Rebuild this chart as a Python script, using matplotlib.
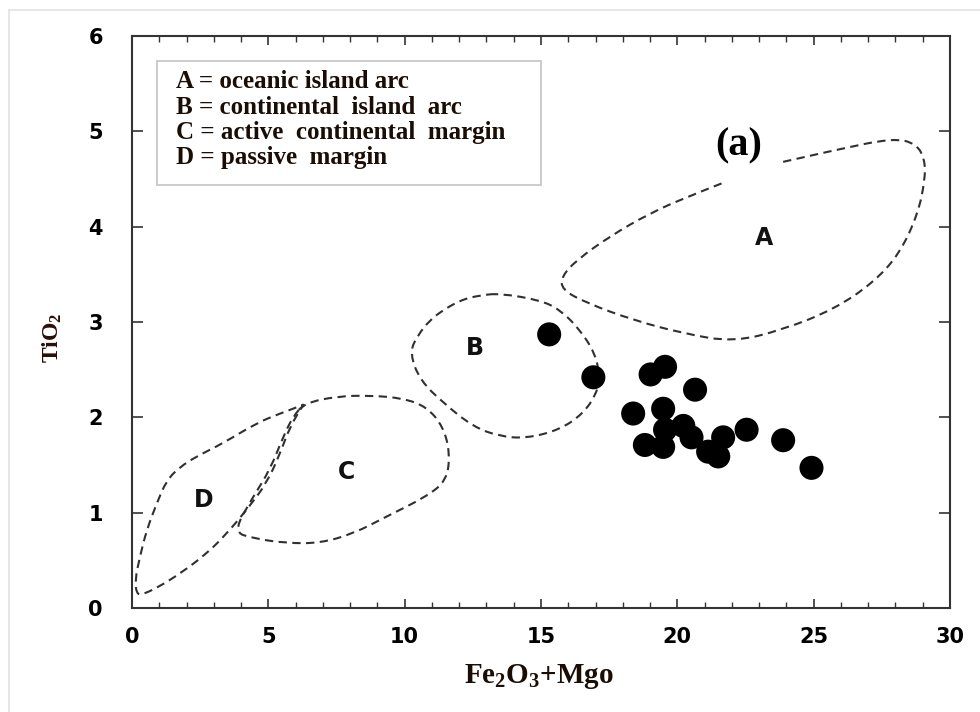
import matplotlib
matplotlib.use("Agg")
import matplotlib.pyplot as plt
from matplotlib.patches import Rectangle, PathPatch
from matplotlib.path import Path
from matplotlib.lines import Line2D
from matplotlib.ticker import MultipleLocator

plt.rcParams['mathtext.fontset'] = 'custom'
plt.rcParams['mathtext.rm'] = 'Liberation Serif:bold'
plt.rcParams['mathtext.bf'] = 'Liberation Serif:bold'

# Sample compositions (wt%)
fe2o3_mgo = [15.30, 16.92, 19.55, 19.02, 20.65, 18.38, 19.48, 20.22, 19.55,
             20.52, 18.81, 19.48, 21.68, 22.54, 23.88, 24.92, 21.13, 21.50]
tio2 = [2.87, 2.42, 2.53, 2.45, 2.29, 2.04, 2.09, 1.91, 1.87,
        1.79, 1.71, 1.69, 1.79, 1.87, 1.76, 1.47, 1.64, 1.59]

# Tectonic-setting field outlines (x = Fe2O3+MgO, y = TiO2)
field_a_x = [23.88, 25.72, 27.92, 28.77, 29.08, 29.08, 28.83, 28.16, 27.18, 25.72,
             23.88, 22.05, 20.22, 18.38, 16.67, 15.76, 15.76, 16.31, 17.53, 18.99,
             20.34, 21.68]
field_a_y = [4.68, 4.80, 4.93, 4.87, 4.70, 4.49, 4.14, 3.72, 3.41, 3.13,
             2.92, 2.79, 2.88, 3.02, 3.20, 3.34, 3.48, 3.65, 3.90, 4.14,
             4.31, 4.46]

field_b_x = [13.49, 14.96, 15.69, 16.43, 16.98, 17.16, 17.04, 16.55, 15.69, 14.47,
             13.49, 12.52, 11.42, 10.56, 10.19, 10.44, 11.05, 12.03, 12.76]
field_b_y = [3.30, 3.23, 3.13, 2.92, 2.67, 2.43, 2.25, 2.04, 1.87, 1.78,
             1.80, 1.90, 2.15, 2.39, 2.67, 2.85, 3.06, 3.23, 3.28]

field_c_x = [6.34, 7.51, 8.73, 9.95, 10.81, 11.42, 11.66, 11.54, 10.81, 9.34,
             8.12, 6.89, 5.67, 4.45, 3.71, 4.45, 5.06, 5.55, 5.91]
field_c_y = [2.15, 2.22, 2.23, 2.20, 2.11, 1.90, 1.62, 1.34, 1.17, 0.96,
             0.78, 0.68, 0.68, 0.73, 0.80, 1.17, 1.45, 1.80, 2.01]

field_d_x = [0.17, 0.11, 0.29, 0.54, 0.91, 1.27, 1.76, 2.37, 3.35, 4.57, 5.43, 6.28,
             6.30, 5.79, 5.43, 4.94, 4.21, 3.47, 2.74, 1.76, 0.91, 0.36]
field_d_y = [0.15, 0.29, 0.54, 0.82, 1.10, 1.34, 1.48, 1.59, 1.73, 1.94, 2.04, 2.13,
             2.14, 1.90, 1.62, 1.31, 1.03, 0.78, 0.57, 0.36, 0.21, 0.14]

field_names = ['A', 'B', 'C', 'D']
field_label_x = [23.17, 12.58, 7.88, 2.64]
field_label_y = [3.88, 2.73, 1.43, 1.13]

key_lines = ['A = oceanic island arc',
             'B = continental  island  arc',
             'C = active  continental  margin',
             'D = passive  margin']

x_ticks = [0, 5, 10, 15, 20, 25, 30]
y_ticks = [0, 1, 2, 3, 4, 5, 6]


def rounded_outline(xs, ys, closed=True):
    """Quadratic-Bezier outline using the listed vertices as control points."""
    pts = list(zip(xs, ys))
    n = len(pts)
    mid = lambda p, q: ((p[0] + q[0]) / 2, (p[1] + q[1]) / 2)
    verts, codes = [], []
    if closed:
        verts.append(mid(pts[-1], pts[0]))
        codes.append(Path.MOVETO)
        for i in range(n):
            verts += [pts[i], mid(pts[i], pts[(i + 1) % n])]
            codes += [Path.CURVE3, Path.CURVE3]
    else:
        verts.append(pts[0])
        codes.append(Path.MOVETO)
        for i in range(1, n - 1):
            end = pts[i + 1] if i == n - 2 else mid(pts[i], pts[i + 1])
            verts += [pts[i], end]
            codes += [Path.CURVE3, Path.CURVE3]
    return Path(verts, codes)


fig = plt.figure(figsize=(9.8, 7.12), dpi=100)
fig.patch.set_facecolor('white')

# thin page frame
fig.add_artist(Line2D([9 / 980, 9 / 980], [0, 1 - 10 / 712], transform=fig.transFigure,
                      color='#e2e2e2', lw=1.2))
fig.add_artist(Line2D([9 / 980, 1], [1 - 10 / 712, 1 - 10 / 712], transform=fig.transFigure,
                      color='#e2e2e2', lw=1.2))

ax = fig.add_axes([132 / 980, 1 - 608 / 712, (950 - 132) / 980, (608 - 36) / 712])
ax.set_xlim(0, 30)
ax.set_ylim(0, 6)

outline_kw = dict(fill=False, edgecolor='#303030', lw=1.5, linestyle=(0, (4, 2.6)))
ax.add_patch(PathPatch(rounded_outline(field_a_x, field_a_y, closed=False), **outline_kw))
ax.add_patch(PathPatch(rounded_outline(field_b_x, field_b_y), **outline_kw))
ax.add_patch(PathPatch(rounded_outline(field_c_x, field_c_y), **outline_kw))
ax.add_patch(PathPatch(rounded_outline(field_d_x, field_d_y), **outline_kw))

for name, lx, ly in zip(field_names, field_label_x, field_label_y):
    ax.text(lx, ly, name, ha='center', va='center', fontsize=17,
            fontweight='bold', family='DejaVu Sans', color='#111111')

ax.scatter(fe2o3_mgo, tio2, s=300, color='black', edgecolors='none', zorder=3)

ax.text(22.26, 4.85, '(a)', ha='center', va='center', fontsize=29,
        fontweight='bold', family='Liberation Serif', color='black')

# key box
ax.add_patch(Rectangle((157 / 980, 1 - 185 / 712), (541 - 157) / 980, (185 - 61) / 712,
                       transform=fig.transFigure, fill=False, edgecolor='#c8c8c8',
                       lw=1.3, zorder=1, clip_on=False))
for i, line in enumerate(key_lines):
    fig.text(176 / 980, 1 - (82 + 25.3 * i) / 712, line, ha='left', va='center',
             fontsize=18, fontweight='bold', family='Liberation Serif', color='#1a0d05')

ax.set_xticks(x_ticks)
ax.set_yticks(y_ticks)
ax.xaxis.set_minor_locator(MultipleLocator(1))
ax.tick_params(axis='x', which='major', direction='in', length=6.5, width=1.2,
               top=True, bottom=True, pad=14, labelsize=15, colors='#333333',
               labelcolor='black')
ax.tick_params(axis='x', which='minor', direction='in', length=4.5, width=1.0,
               top=True, bottom=True, colors='#333333')
ax.tick_params(axis='y', which='major', direction='in', length=8, width=1.2,
               left=True, right=True, pad=21, labelsize=15, colors='#333333',
               labelcolor='black')
for lab in ax.get_xticklabels() + ax.get_yticklabels():
    lab.set_fontweight('bold')
    lab.set_family('DejaVu Sans')

for sp in ax.spines.values():
    sp.set_color('#333333')
    sp.set_linewidth(1.5)

ax.set_xlabel(r'$\mathrm{Fe_2O_3{+}Mgo}$', fontsize=21, color='#1a0d05')
ax.xaxis.set_label_coords(0.4976, -0.095)
ax.xaxis.label.set_va('top')
ax.set_ylabel(r'$\mathrm{TiO_2}$', fontsize=17, color='#2a0f08')
ax.yaxis.set_label_coords(-0.098, 0.472)
ax.yaxis.label.set_va('center')

fig.savefig('out.png', dpi=100, facecolor='white')
